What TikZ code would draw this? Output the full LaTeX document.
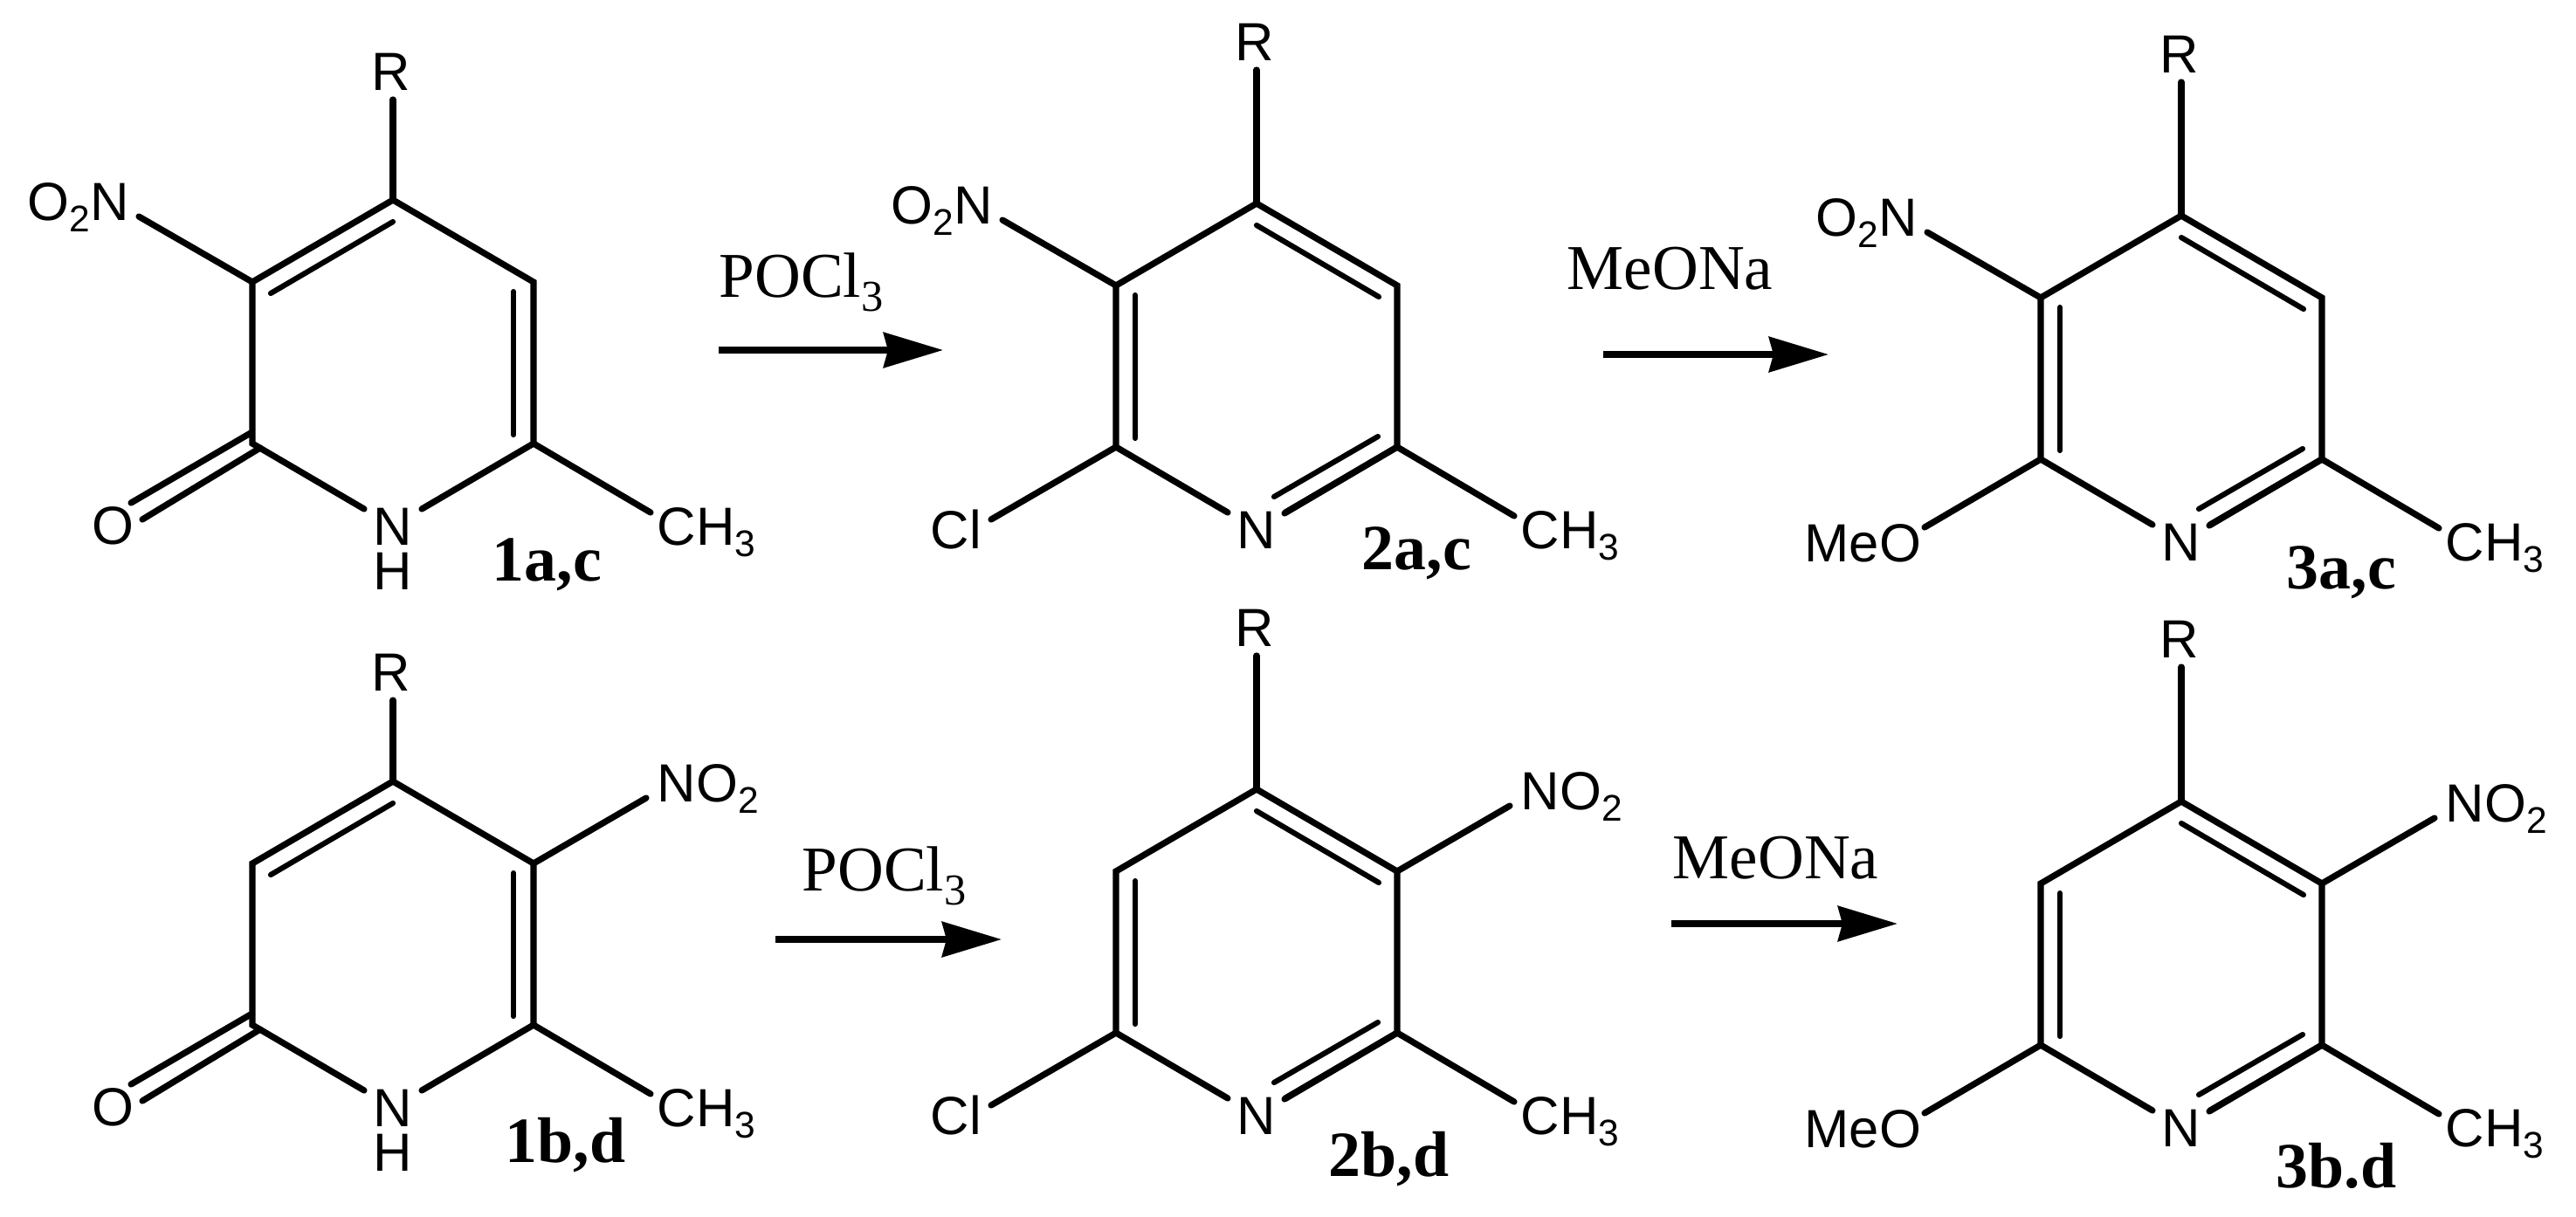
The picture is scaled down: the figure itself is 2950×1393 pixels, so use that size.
\documentclass[tikz,border=0pt]{standalone}
\usepackage{fontspec}
\setmainfont{Liberation Serif}
\setsansfont{Liberation Sans}
\usetikzlibrary{arrows.meta}
\newcommand{\lowsub}[1]{\raisebox{-.22em}{\scalebox{.69}{#1}}}
\tikzset{
  bond/.style={line width=2.05pt, line cap=round, line join=miter},
  innerbond/.style={line width=1.75pt, line cap=round},
  rxnarrow/.style={line width=2.1pt, -{Stealth[length=.68cm, width=.4cm, inset=.05cm]}},
  atomlabel/.style={font=\sffamily\fontsize{17.5}{18}\selectfont, inner sep=0pt, anchor=base west},
  centeratom/.style={atomlabel, anchor=base},
  reagent/.style={font=\fontsize{20.8}{22}\selectfont, inner sep=0pt, anchor=base west},
  compound/.style={font=\bfseries\fontsize{21}{22}\selectfont, inner sep=0pt, anchor=base west}
}
\begin{document}
\begin{tikzpicture}[x=0.01cm, y=-0.01cm]
  \useasboundingbox (0,0) rectangle (2950,1393);

  % ring skeleton, R, ring N and methyl are the same in all six
  \foreach \m/\x/\y/\rh in {1a/450/229/115, 2a/1439/233/153, 3a/2498/247/153,
                            1b/450/895/93, 2b/1439/904/153, 3b/2498/918/154} {
    \coordinate (\m-t) at (\x,\y);
    \coordinate (\m-ul) at (\x-161,\y+94);
    \coordinate (\m-ll) at (\x-161,\y+279);
    \coordinate (\m-ur) at (\x+161,\y+94);
    \coordinate (\m-lr) at (\x+161,\y+279);
    \coordinate (\m-nl) at (\x-33,\y+354);
    \coordinate (\m-nr) at (\x+33,\y+354);
    \coordinate (\m-rend) at (\x,\y-\rh);
    \coordinate (\m-meend) at (\x+295,\y+358);
    \node [centeratom] (\m-R) at (\x-2,\y-\rh-11) {R};
    \node [centeratom] (\m-N) at (\x,\y+395) {N};
    \node [atomlabel] (\m-CH) at (\x+302,\y+395) {CH\lowsub{3}};
    \draw [bond] (\m-nl) -- (\m-ll) -- (\m-ul) -- (\m-t) -- (\m-ur) -- (\m-lr) -- (\m-nr);
    \draw [bond] (\m-t) -- (\m-rend);
    \draw [bond] (\m-lr) -- (\m-meend);
  }

  % pyridones
  \foreach \m/\x/\y in {1a/450/229, 1b/450/895} {
    \coordinate (\m-ia) at (\x,\y+25);
    \coordinate (\m-ib) at (\x-140,\y+107);
    \coordinate (\m-ic) at (\x+138,\y+105);
    \coordinate (\m-id) at (\x+138,\y+269);
    \coordinate (\m-oa) at (\x-163,\y+267);
    \coordinate (\m-ob) at (\x-300,\y+347);
    \coordinate (\m-oc) at (\x-152,\y+284);
    \coordinate (\m-od) at (\x-287,\y+366);
    \node [atomlabel] (\m-O) at (\x-345,\y+394) {O};
    \node [centeratom] (\m-H) at (\x,\y+446) {H};
    \draw [innerbond] (\m-ia) -- (\m-ib);
    \draw [innerbond] (\m-ic) -- (\m-id);
    \draw [bond] (\m-oa) -- (\m-ob);
    \draw [bond] (\m-oc) -- (\m-od);
  }

  % pyridines
  \foreach \m/\x/\y in {2a/1439/233, 3a/2498/247, 2b/1439/904, 3b/2498/918} {
    \coordinate (\m-ia) at (\x,\y+25);
    \coordinate (\m-ib) at (\x+140,\y+107);
    \coordinate (\m-ic) at (\x-139,\y+105);
    \coordinate (\m-id) at (\x-139,\y+269);
    \coordinate (\m-ie) at (\x+20,\y+336);
    \coordinate (\m-if) at (\x+139,\y+267);
    \coordinate (\m-dbl) at (\x+32,\y+355);
    \draw [innerbond] (\m-ia) -- (\m-ib);
    \draw [innerbond] (\m-ic) -- (\m-id);
    \draw [innerbond] (\m-ie) -- (\m-if);
    \draw [bond] (\m-lr) -- (\m-dbl);
  }

  % O2N on the left in the a,c row
  \foreach \m/\x/\y in {1a/450/229, 2a/1439/233, 3a/2498/247} {
    \coordinate (\m-nend) at (\x-291,\y+19);
    \node [atomlabel] (\m-NO) at (\x-419,\y+23) {O\lowsub{2}N};
    \draw [bond] (\m-ul) -- (\m-nend);
  }

  % NO2 on the right in the b,d row
  \foreach \m/\x/\y in {1b/450/895, 2b/1439/904, 3b/2498/918} {
    \coordinate (\m-nend) at (\x+290,\y+19);
    \node [atomlabel] (\m-NO) at (\x+302,\y+23) {NO\lowsub{2}};
    \draw [bond] (\m-ur) -- (\m-nend);
  }

  % Cl
  \foreach \m/\x/\y in {2a/1439/233, 2b/1439/904} {
    \coordinate (\m-xend) at (\x-304,\y+362);
    \node [atomlabel] (\m-Cl) at (\x-374,\y+395) {Cl};
    \draw [bond] (\m-ll) -- (\m-xend);
  }

  % OMe
  \foreach \m/\x/\y in {3a/2498/247, 3b/2498/918} {
    \coordinate (\m-xend) at (\x-294,\y+357);
    \node [atomlabel] (\m-MeO) at (\x-432,\y+396) {MeO};
    \draw [bond] (\m-ll) -- (\m-xend);
  }

  \node [compound] (lab1a) at (563,665) {1a,c};
  \node [compound] (lab2a) at (1559,652) {2a,c};
  \node [compound] (lab3a) at (2618,674) {3a,c};
  \node [compound] (lab1b) at (578,1331) {1b,d};
  \node [compound] (lab2b) at (1521,1347) {2b,d};
  \node [compound] (lab3b) at (2606,1360) {3b.d};

  \node [reagent] (pocla) at (823,340) {POCl\lowsub{3}};
  \node [reagent] (meoa) at (1794,331) {MeONa};
  \node [reagent] (poclb) at (918,1020) {POCl\lowsub{3}};
  \node [reagent] (meob) at (1915,1006) {MeONa};

  \coordinate (arra-s) at (823,401);
  \coordinate (arra-e) at (1080,401);
  \coordinate (arrb-s) at (1836,406);
  \coordinate (arrb-e) at (2094,406);
  \coordinate (arrc-s) at (888,1076);
  \coordinate (arrc-e) at (1147,1076);
  \coordinate (arrd-s) at (1914,1058);
  \coordinate (arrd-e) at (2173,1058);
  \draw [rxnarrow] (arra-s) -- (arra-e);
  \draw [rxnarrow] (arrb-s) -- (arrb-e);
  \draw [rxnarrow] (arrc-s) -- (arrc-e);
  \draw [rxnarrow] (arrd-s) -- (arrd-e);
\end{tikzpicture}
\end{document}
